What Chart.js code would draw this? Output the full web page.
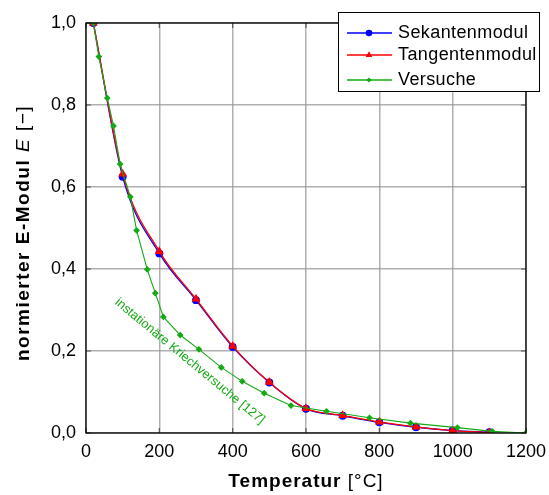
<!DOCTYPE html>
<html>
<head>
<meta charset="utf-8">
<script src="https://cdn.jsdelivr.net/npm/chart.js@4/dist/chart.umd.min.js"></script>
<style>
  html, body { margin: 0; padding: 0; background: #fff; }
  #wrap { width: 549px; height: 495px; }
</style>
</head>
<body>
<div id="wrap"><canvas id="chart" width="549" height="495"></canvas></div>
<script>
const modulTemps = [20, 100, 200, 300, 400, 500, 600, 700, 800, 900, 1000, 1100];
const sekantenValues = [1.0, 0.625, 0.438, 0.324, 0.210, 0.123, 0.059, 0.042, 0.026, 0.014, 0.006, 0.002];
const tangentenValues = [1.0, 0.632, 0.443, 0.327, 0.212, 0.124, 0.060, 0.043, 0.027, 0.015, 0.006, 0.001];
const versuchTemps = [20, 35, 58, 75, 93, 121, 138, 167, 189, 211, 257, 308, 369, 426, 486, 559, 656, 773, 885, 1013, 1108, 1200];
const versuchValues = [1.0, 0.918, 0.817, 0.749, 0.656, 0.576, 0.494, 0.399, 0.341, 0.283, 0.239, 0.204, 0.160, 0.126, 0.097, 0.067, 0.053, 0.037, 0.024, 0.013, 0.004, 0.0];
const seriesLabels = ["Sekantenmodul", "Tangentenmodul", "Versuche"];
const xTicks = [0, 200, 400, 600, 800, 1000, 1200];
const yTicks = [0, 0.2, 0.4, 0.6, 0.8, 1.0];
const annotationText = "instationäre Kriechversuche [127]";

const FONT = "'Liberation Sans', Arial, Helvetica, sans-serif";
const GREEN = "rgb(20,170,20)";

function toPoints(xs, ys) {
  return xs.map((x, i) => ({ x: x, y: ys[i] }));
}

// draws mixed-style text runs centred on x (current transform)
function drawRuns(ctx, runs, x, y, spacing) {
  ctx.letterSpacing = spacing + "px";
  let total = 0;
  runs.forEach(r => { ctx.font = r[0] + FONT; total += ctx.measureText(r[1]).width; });
  let px = x - total / 2;
  runs.forEach(r => {
    ctx.font = r[0] + FONT;
    ctx.fillText(r[1], px, y);
    px += ctx.measureText(r[1]).width;
  });
  ctx.letterSpacing = "0px";
}

// frame, inner tick marks, axis titles, annotation, legend
const decorations = {
  id: "decorations",
  beforeDatasetsDraw(chart) {
    const ctx = chart.ctx;
    const a = chart.chartArea;
    const xs = chart.scales.x, ys = chart.scales.y;
    ctx.save();
    ctx.strokeStyle = "#555";
    ctx.lineWidth = 1.2;
    ctx.beginPath();
    xTicks.forEach(v => {
      const px = xs.getPixelForValue(v);
      ctx.moveTo(px, a.bottom); ctx.lineTo(px, a.bottom - 5);
      ctx.moveTo(px, a.top); ctx.lineTo(px, a.top + 5);
    });
    yTicks.forEach(v => {
      const py = ys.getPixelForValue(v);
      ctx.moveTo(a.left, py); ctx.lineTo(a.left + 5, py);
      ctx.moveTo(a.right, py); ctx.lineTo(a.right - 5, py);
    });
    ctx.stroke();
    ctx.restore();
  },
  afterDatasetsDraw(chart) {
    const ctx = chart.ctx;
    const a = chart.chartArea;
    const xs = chart.scales.x, ys = chart.scales.y;
    ctx.save();

    // frame
    ctx.strokeStyle = "#000";
    ctx.lineWidth = 1.3;
    ctx.strokeRect(a.left, a.top, a.right - a.left, a.bottom - a.top);

    // annotation along the test curve
    ctx.save();
    ctx.translate(xs.getPixelForValue(283), ys.getPixelForValue(0.175));
    ctx.rotate(39.5 * Math.PI / 180);
    ctx.fillStyle = GREEN;
    ctx.font = "12.8px " + FONT;
    ctx.textAlign = "center";
    ctx.textBaseline = "middle";
    ctx.fillText(annotationText, 0, 0);
    ctx.restore();

    // axis titles
    ctx.fillStyle = "#000";
    ctx.textBaseline = "alphabetic";
    ctx.textAlign = "left";
    drawRuns(ctx, [["bold 19px ", "Temperatur"], ["19px ", " [°C]"]],
      (a.left + a.right) / 2, 487, 1);

    ctx.save();
    ctx.translate(29, 233);
    ctx.rotate(-Math.PI / 2);
    drawRuns(ctx, [["bold 19px ", "normierter E-Modul "], ["italic 19px ", "E"], ["19px ", " [−]"]],
      0, 0, 1.5);
    ctx.restore();

    // legend
    const lx = a.right - 188, ly = a.top - 11, lw = 201, lh = 79;
    ctx.fillStyle = "#fff";
    ctx.fillRect(lx, ly, lw, lh);
    ctx.strokeStyle = "#000";
    ctx.lineWidth = 1;
    ctx.strokeRect(lx + 0.5, ly + 0.5, lw, lh);
    const rows = [ly + 21, ly + 43, ly + 68];
    chart.data.datasets.forEach((ds, i) => {
      const y = rows[i];
      ctx.strokeStyle = ds.borderColor;
      ctx.lineWidth = 1.3;
      ctx.beginPath();
      ctx.moveTo(lx + 9, y); ctx.lineTo(lx + 54, y);
      ctx.stroke();
      ctx.fillStyle = ds.pointBackgroundColor;
      Chart.helpers.drawPoint(ctx, {
        pointStyle: ds.pointStyle, radius: ds.pointRadius, rotation: 0, borderWidth: 0
      }, lx + 31, y);
      ctx.fillStyle = "#000";
      ctx.font = "18px " + FONT;
      ctx.letterSpacing = "0.4px";
      ctx.textAlign = "left";
      ctx.textBaseline = "middle";
      ctx.fillText(ds.label, lx + 60, y);
      ctx.letterSpacing = "0px";
    });

    ctx.restore();
  }
};

new Chart(document.getElementById("chart"), {
  type: "line",
  data: {
    datasets: [
      {
        label: seriesLabels[0],
        data: toPoints(modulTemps, sekantenValues),
        borderColor: "#0000ff",
        backgroundColor: "#0000ff",
        pointBackgroundColor: "#0000ff",
        pointBorderColor: "#0000ff",
        borderWidth: 1.3,
        pointStyle: "circle",
        pointRadius: 3.3,
        cubicInterpolationMode: "monotone",
        order: 2
      },
      {
        label: seriesLabels[1],
        data: toPoints(modulTemps, tangentenValues),
        borderColor: "#ff0000",
        backgroundColor: "#ff0000",
        pointBackgroundColor: "#ff0000",
        pointBorderColor: "#ff0000",
        borderWidth: 1.3,
        pointStyle: "triangle",
        pointRadius: 3.8,
        cubicInterpolationMode: "monotone",
        order: 1
      },
      {
        label: seriesLabels[2],
        data: toPoints(versuchTemps, versuchValues),
        borderColor: GREEN,
        backgroundColor: GREEN,
        pointBackgroundColor: GREEN,
        pointBorderColor: GREEN,
        borderWidth: 1.1,
        pointStyle: "rectRot",
        pointRadius: 2.6,
        tension: 0,
        order: 0
      }
    ]
  },
  options: {
    responsive: false,
    animation: false,
    layout: { padding: { left: 0, top: 23, right: 23, bottom: 0 } },
    plugins: {
      legend: { display: false },
      tooltip: { enabled: false }
    },
    scales: {
      x: {
        type: "linear",
        min: 0,
        max: 1200,
        afterBuildTicks(scale) { scale.ticks = xTicks.map(v => ({ value: v })); },
        afterFit(scale) {
          scale.height = 62;
          scale.paddingLeft = 0;
          scale.paddingRight = 0;
        },
        ticks: {
          color: "#000",
          font: { family: FONT, size: 18 },
          padding: 8,
          maxRotation: 0,
          callback: v => String(v)
        },
        grid: { color: "rgba(150,150,150,0.75)", lineWidth: 1.5, drawTicks: false },
        border: { display: false }
      },
      y: {
        min: 0,
        max: 1,
        afterBuildTicks(scale) { scale.ticks = yTicks.map(v => ({ value: v })); },
        afterFit(scale) {
          scale.width = 86;
          scale.paddingTop = 0;
          scale.paddingBottom = 0;
        },
        ticks: {
          color: "#000",
          font: { family: FONT, size: 18 },
          padding: 10,
          callback: v => v.toFixed(1).replace(".", ",")
        },
        grid: { color: "rgba(150,150,150,0.75)", lineWidth: 1.5, drawTicks: false },
        border: { display: false }
      }
    }
  },
  plugins: [decorations]
});
</script>
</body>
</html>
